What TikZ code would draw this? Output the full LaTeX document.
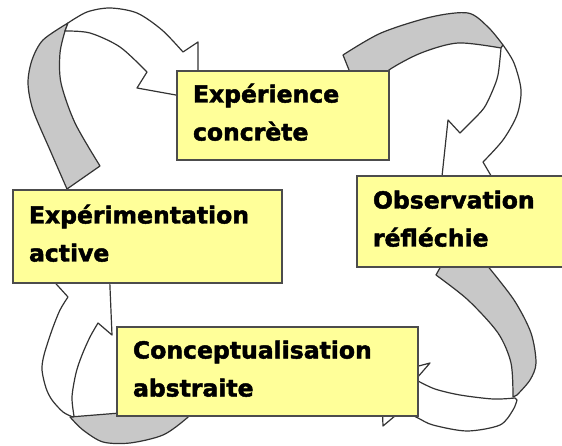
\documentclass[tikz,border=0pt]{standalone}
\usepackage{fontspec}
\setmainfont{DejaVu Sans}[BoldFeatures={FakeBold=2}]
\usetikzlibrary{calc}
\definecolor{boxyellow}{RGB}{255,255,153}
\definecolor{ribbongray}{RGB}{200,200,200}
\tikzstyle{phase}=[draw=black!70,line width=1.5pt,fill=boxyellow,anchor=north west,outer sep=0pt,inner xsep=16pt,align=left,font=\bfseries\fontsize{23.5}{38}\selectfont,text height=18pt,text depth=44pt]
\tikzstyle{back} = [draw=black!80,line width=1.2pt,line join=round,fill=ribbongray]
\tikzstyle{front} = [draw=black!80,line width=1.2pt,line join=round,fill=white]

\begin{document}
\begin{tikzpicture}[x=1pt,y=-1pt]
    \clip (0,0) rectangle (562,446);
    % Draw the four curved ribbons first, the boxes hide their tips
    % active -> concrete
    \path[back] plot[smooth] coordinates {(67,189) (50,150) (33,110) (28,83) (32,60) (43,40) (68,23)}
        -- plot[smooth] coordinates {(65,31) (60,53) (61,83) (75,123) (100,166)} -- cycle;
    \path[front] plot[smooth] coordinates {(68,23) (87,12) (110,8) (137,13) (162,30) (183,52)}
        -- (198,42) -- (198,99) -- (137,88)
        -- plot[smooth] coordinates {(147,72) (120,47) (90,33) (65,31)} -- cycle;
    % concrete -> reflective
    \path[back] plot[smooth] coordinates {(343,55) (381,33) (431,17) (468,13) (488,27) (503,45)}
        -- plot[smooth] coordinates {(501,48) (458,43) (421,53) (389,70) (375,85)} -- (351,75) -- cycle;
    \path[front] plot[smooth] coordinates {(503,45) (514,63) (521,90) (517,115) (503,140) (483,162)}
        -- (497,186) -- (438,214) -- (448,120)
        -- plot[smooth] coordinates {(460,133) (472,121) (484,108) (492,92) (498,75) (501,48)} -- cycle;
    % reflective -> abstract
    \path[back] (436,275) -- (441,266) -- (460,250)
        -- plot[smooth] coordinates {(486,264) (514,300) (531,333) (536,363) (530,380) (517,395)}
        -- plot[smooth] coordinates {(513,397) (511,363) (498,333) (468,300) (436,275)} -- cycle;
    \path[front] plot[smooth] coordinates {(515,398) (493,399) (460,395) (435,389) (418,381)}
        -- (410,386) -- (430,363) -- (381,376) -- (383,426)
        -- plot[smooth] coordinates {(402,410) (418,418) (433,425) (467,431) (500,425) (513,410) (517,400)} -- cycle;
    % abstract -> active
    \path[back] plot[smooth] coordinates {(200,404) (187,418) (163,435) (130,443) (103,442) (83,430) (70,417)}
        -- (120,413) -- cycle;
    \path[front] plot[smooth] coordinates {(73,417) (63,412) (52,400) (46,388) (42,370) (44,355) (52,330) (60,310) (68,297)}
        -- (48,275) -- (108,240) -- (112,335)
        -- plot[smooth] coordinates {(98,323) (90,337) (82,355) (76,373) (72,397) (74,416)} -- cycle;

    % Then the boxes
    \foreach \pos/\name/\w/\tw/\h/\txt in {{(177,71)/conc/212/180/89/{Expérience\\concrète}},
        {(357,176)/obs/212/180/91/{Observation\\réfléchie}},
        {(13,190)/act/269/237/93/{Expérimentation\\active}},
        {(117,327)/abst/301/269/89/{Conceptualisation\\abstraite}}}
        \node[phase,minimum width=\w pt,text width=\tw pt,minimum height=\h pt] (\name) at \pos {\txt};
\end{tikzpicture}
\end{document}
